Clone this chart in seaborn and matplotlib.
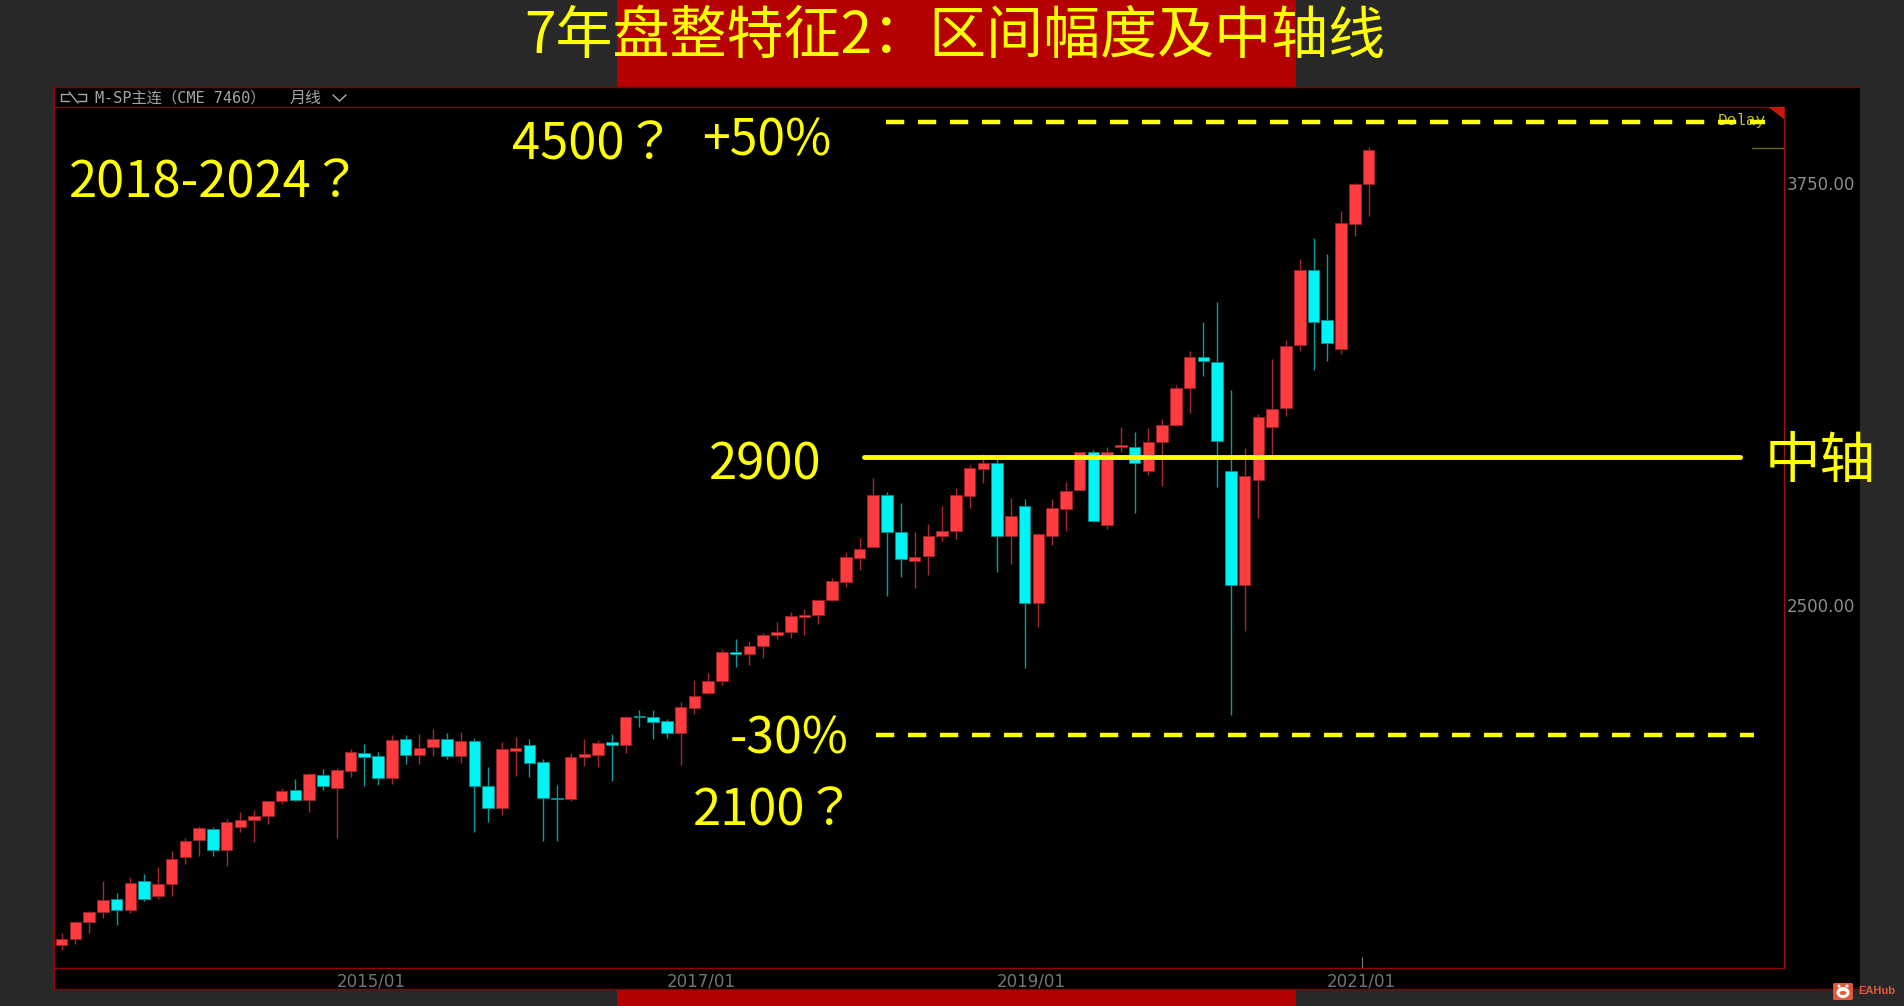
import matplotlib
matplotlib.use('Agg')
import matplotlib.pyplot as plt
from matplotlib.lines import Line2D
from matplotlib.patches import Ellipse, FancyBboxPatch, Polygon, Rectangle
import numpy as np
import pandas as pd
import seaborn as sns

# monthly bars, first bar is 2013/02
opens = [1494, 1510, 1560, 1592, 1629, 1597, 1683, 1637, 1675, 1754,
         1803, 1836, 1775, 1843, 1862, 1876, 1919, 1951, 1923, 1996,
         1958, 2008, 2061, 2053, 1988, 2102, 2056, 2081, 2104, 2053,
         2096, 1964, 1900, 2069, 2084, 2034, 1929, 1926, 2050, 2057,
         2093, 2085, 2172, 2168, 2156, 2122, 2196, 2239, 2274, 2362,
         2354, 2379, 2411, 2420, 2466, 2469, 2515, 2569, 2639, 2673,
         2826, 2716, 2631, 2644, 2705, 2719, 2822, 2903, 2921, 2703,
         2793, 2505, 2705, 2783, 2842, 2952, 2738, 2969, 2969, 2898,
         2983, 3033, 3144, 3235, 3221, 2898, 2558, 2869, 3026, 3083,
         3271, 3491, 3344, 3259, 3629, 3747]
highs = [1528, 1565, 1594, 1683, 1646, 1694, 1703, 1724, 1772, 1811,
         1846, 1844, 1866, 1886, 1893, 1921, 1959, 1984, 2002, 2013,
         2017, 2073, 2088, 2066, 2115, 2114, 2117, 2132, 2120, 2124,
         2105, 2020, 2093, 2109, 2102, 2043, 1967, 2061, 2102, 2101,
         2117, 2171, 2190, 2188, 2162, 2212, 2277, 2298, 2369, 2400,
         2394, 2416, 2450, 2478, 2487, 2515, 2579, 2657, 2698, 2876,
         2835, 2801, 2716, 2739, 2794, 2848, 2915, 2946, 2937, 2816,
         2813, 2712, 2813, 2864, 2954, 2959, 2967, 3027, 3013, 3024,
         3052, 3153, 3253, 3337, 3397, 3136, 2964, 3066, 3230, 3284,
         3524, 3586, 3539, 3667, 3751, 3857]
lows = [1479, 1496, 1528, 1574, 1551, 1589, 1622, 1628, 1639, 1733,
        1758, 1758, 1728, 1828, 1799, 1852, 1912, 1921, 1887, 1952,
        1810, 1992, 1965, 1967, 1970, 2030, 2030, 2054, 2043, 2032,
        1828, 1858, 1879, 1995, 1990, 1802, 1802, 1919, 2023, 2019,
        1979, 2063, 2139, 2103, 2105, 2026, 2176, 2237, 2262, 2316,
        2321, 2342, 2399, 2402, 2412, 2444, 2513, 2554, 2604, 2671,
        2528, 2584, 2551, 2589, 2691, 2696, 2788, 2862, 2599, 2622,
        2313, 2436, 2678, 2719, 2840, 2747, 2726, 2953, 2774, 2885,
        2853, 3030, 3068, 3179, 2850, 2173, 2422, 2759, 2938, 3061,
        3253, 3195, 3222, 3242, 3594, 3651]
closes = [1510, 1561, 1590, 1627, 1597, 1678, 1629, 1673, 1749, 1802,
          1840, 1773, 1856, 1864, 1875, 1920, 1949, 1923, 2000, 1964,
          2011, 2064, 2051, 1987, 2101, 2057, 2078, 2104, 2052, 2097,
          1964, 1900, 2073, 2078, 2033, 1929, 1927, 2049, 2059, 2092,
          2084, 2169, 2167, 2154, 2122, 2197, 2231, 2275, 2362, 2354,
          2379, 2412, 2419, 2468, 2470, 2515, 2570, 2641, 2666, 2825,
          2717, 2635, 2643, 2705, 2720, 2825, 2905, 2921, 2703, 2763,
          2505, 2710, 2786, 2838, 2952, 2749, 2952, 2973, 2922, 2983,
          3034, 3143, 3235, 3223, 2985, 2560, 2881, 3056, 3082, 3268,
          3493, 3337, 3276, 3631, 3747, 3849]

year_ticks = [22.5, 46.5, 70.5, 94.5]
year_labels = ['2015/01', '2017/01', '2019/01', '2021/01']
price_ticks = [2500, 3750]
price_labels = ['2500.00', '3750.00']

mid_level = 2938
upper_level = 3931
lower_level = 2115
last_price = 3855

W, H = 1904, 1006
YELLOW = '#FFFF00'
BG = '#282828'
BAND = '#B40000'
BORDER = '#8A0808'
UP = '#FF3C40'
DOWN = '#00F4F4'
UP_WICK = '#A52A2E'
DOWN_WICK = '#0A9A9C'
# JP has the question mark centred in its cell, as in the original
NOTE_FONT = ['Liberation Sans Narrow', 'Noto Sans CJK JP', 'DejaVu Sans']
TITLE_FONT = ['Liberation Sans Narrow', 'Noto Sans CJK SC', 'DejaVu Sans']
HEADER_FONT = ['DejaVu Sans Mono', 'Noto Sans CJK SC']


def fx(x):
    return x / W


def fy(y):
    return 1 - y / H


def box(fig, x0, y0, x1, y1, color, zorder=-5):
    fig.add_artist(Rectangle((fx(x0), fy(y1)), (x1 - x0) / W, (y1 - y0) / H,
                             transform=fig.transFigure, facecolor=color,
                             edgecolor='none', zorder=zorder))


def fig_line(fig, xs, ys, color, lw=1.0, zorder=2):
    fig.add_artist(Line2D([fx(v) for v in xs], [fy(v) for v in ys], color=color,
                          lw=lw, transform=fig.transFigure, zorder=zorder))


def note(fig, x, y, s, size=36.5, ha='left', family=NOTE_FONT):
    fig.text(fx(x), fy(y), s, color=YELLOW, fontsize=size, ha=ha, va='center',
             family=family, zorder=6)


def draw_frame(fig):
    box(fig, 0, 0, W, H, BG, -10)
    box(fig, 617, 0, 1296, 87, BAND, -9)
    box(fig, 617, 989, 1296, H, BAND, -9)
    box(fig, 54, 87, 1860, 989, 'black', -8)
    fig_line(fig, [54, 1860], [87, 87], '#6E0A0A')
    fig_line(fig, [54, 1860], [989, 989], '#6E0A0A')
    fig_line(fig, [54, 54], [87, 989], '#B00000', 1.2)
    fig_line(fig, [54, 1784], [107, 107], '#6E0A0A')
    fig_line(fig, [1784, 1784], [107, 968], '#A01010')


def draw_header(fig):
    # small link icon, then the instrument name
    fig_line(fig, [69, 61, 61, 69], [94, 94, 101, 101], '#A8A8A8', 1.0)
    fig_line(fig, [78, 86, 86, 78], [94, 94, 101, 101], '#A8A8A8', 1.0)
    fig_line(fig, [69, 78], [92, 103], '#A8A8A8', 1.0)
    fig.text(fx(95), fy(98), 'M-SP主连（CME 7460）', color='#A4A4A4', fontsize=11,
             va='center', family=HEADER_FONT)
    fig.text(fx(290), fy(98), '月线', color='#A4A4A4', fontsize=11.5, va='center',
             family=HEADER_FONT)
    fig_line(fig, [333, 339.5, 346], [95, 101, 95], '#B0B0B0', 1.0)

    # corner flag
    fig.add_artist(Polygon([(fx(1768), fy(107)), (fx(1784), fy(107)), (fx(1784), fy(119))],
                           transform=fig.transFigure, facecolor='#C41808', edgecolor='none', zorder=3))


def draw_logo(fig):
    fig.add_artist(FancyBboxPatch((fx(1835), fy(999)), 16 / W, 15 / H,
                                  boxstyle='round,pad=0.001', transform=fig.transFigure,
                                  facecolor='#E4583C', edgecolor='none', zorder=4))
    for x, y, w, h in [(1843, 992.5, 13, 11), (1839, 986, 3, 3), (1847, 986, 3, 3)]:
        fig.add_artist(Ellipse((fx(x), fy(y)), w / W, h / H, transform=fig.transFigure,
                               facecolor='white', edgecolor='none', zorder=5))
    fig.add_artist(Ellipse((fx(1843), fy(993)), 7 / W, 4 / H, transform=fig.transFigure,
                           facecolor='#E4583C', edgecolor='none', zorder=5))
    fig.text(fx(1858), fy(991), 'EAHub', color='#E4583C', fontsize=8, fontweight='bold',
             va='center', family='Liberation Sans', zorder=5)


def main():
    sns.set_theme(style='dark', rc={'axes.facecolor': 'black', 'figure.facecolor': BG})

    df = pd.DataFrame({'bar': np.arange(len(opens)), 'open': opens, 'high': highs,
                       'low': lows, 'close': closes})
    df['top'] = df[['open', 'close']].max(axis=1)
    df['bottom'] = df[['open', 'close']].min(axis=1)
    df['size'] = df['top'] - df['bottom']
    df['rising'] = df['close'] >= df['open']

    fig = plt.figure(figsize=(W / 100, H / 100), dpi=100)
    draw_frame(fig)
    draw_header(fig)
    draw_logo(fig)

    ax = fig.add_axes([fx(55), fy(968), (1784 - 55) / W, (968 - 107) / H])
    ax.set_facecolor('black')

    for rising, fill, wick, edge in [(True, UP, UP_WICK, '#9A2226'), (False, DOWN, DOWN_WICK, '#058A8C')]:
        part = df[df['rising'] == rising]
        ax.vlines(part['bar'], part['low'], part['high'], color=wick, lw=1.0, zorder=1)
        sns.barplot(data=part, x='bar', y='size', bottom=part['bottom'].to_numpy(), orient='x',
                    native_scale=True, width=0.84, color=fill, saturation=1, errorbar=None,
                    edgecolor=edge, linewidth=0.7, zorder=2, ax=ax)

    ax.text(fx(1718), fy(120), 'Delay', color='#C8C800', fontsize=11.5, va='center',
            family='Liberation Mono', transform=fig.transFigure, zorder=3)

    # hand drawn guide lines of the original
    sns.lineplot(x=[58.3, 122.0], y=[mid_level, mid_level], color=YELLOW, lw=3.5, ax=ax, zorder=4)
    for level, start, stop in [(upper_level, 59.9, 123.8), (lower_level, 59.2, 123.0)]:
        ax.plot([start, stop], [level, level], color=YELLOW, lw=3.2, zorder=4,
                dashes=(4.1, 3.1), dash_capstyle='butt')
    ax.plot([122.9, 125.2], [last_price, last_price], color='#6B6B1A', lw=1.0, zorder=3)

    ax.set_xlim(-0.48, 125.2)
    ax.set_ylim(1425, 3975)
    ax.set_xlabel('')
    ax.set_ylabel('')
    ax.grid(False)

    ax.set_xticks(year_ticks)
    ax.set_xticklabels(year_labels, color='#747474', fontsize=12, family='DejaVu Sans')
    ax.tick_params(axis='x', direction='in', length=8, width=0.8, color='#808080', pad=3.5, bottom=True)
    for tick in ax.xaxis.get_major_ticks()[:-1]:
        tick.tick1line.set_visible(False)
    ax.yaxis.tick_right()
    ax.set_yticks(price_ticks)
    ax.set_yticklabels(price_labels, color='#8C8C8C', fontsize=12, family='DejaVu Sans')
    ax.tick_params(axis='y', length=0, pad=2)

    for side in ['top', 'left', 'right']:
        ax.spines[side].set_visible(False)
    ax.spines['bottom'].set_color(BORDER)
    ax.spines['bottom'].set_linewidth(1.0)

    # title and the notes over the chart
    note(fig, 955, 37, '7年盘整特征2：区间幅度及中轴线', size=41, ha='center', family=TITLE_FONT)
    note(fig, 69, 184, '2018-2024？')
    note(fig, 512, 146, '4500？')
    note(fig, 702, 141, '+50%', size=36)
    note(fig, 709, 466, '2900')
    note(fig, 730, 740, '-30%', size=36)
    note(fig, 693, 811, '2100？')
    note(fig, 1765, 462, '中轴', size=40)

    fig.savefig('out.png', dpi=100)


if __name__ == '__main__':
    main()
